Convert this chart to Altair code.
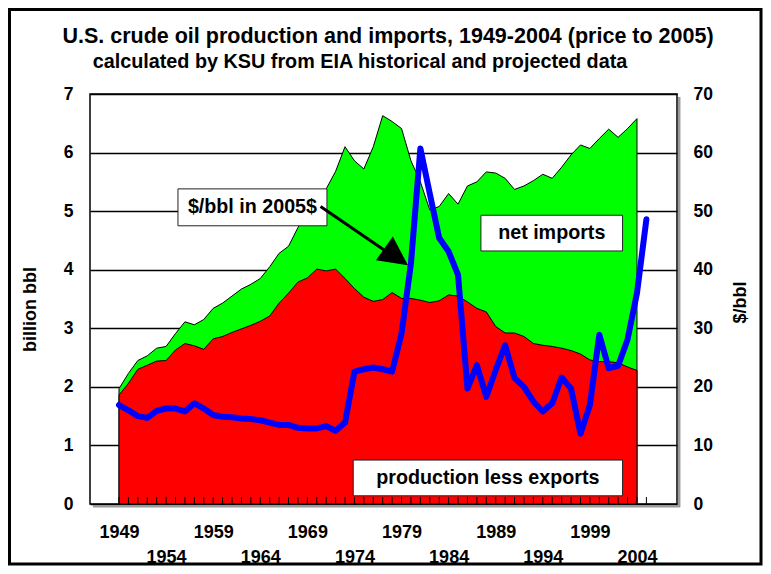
import altair as alt
import pandas as pd

FONT = "Liberation Sans"

# ---------------- data ----------------
years = list(range(1949, 2005))
production_less_exports = [
    1.86, 2.06, 2.30, 2.37, 2.44, 2.45, 2.63, 2.74, 2.70, 2.64,
    2.82, 2.86, 2.93, 2.99, 3.05, 3.12, 3.21, 3.43, 3.60, 3.79,
    3.86, 4.01, 3.98, 4.01, 3.85, 3.68, 3.53, 3.46, 3.49, 3.61,
    3.51, 3.51, 3.48, 3.44, 3.47, 3.57, 3.55, 3.45, 3.34, 3.28,
    3.03, 2.92, 2.92, 2.86, 2.74, 2.71, 2.69, 2.66, 2.62, 2.56,
    2.46, 2.43, 2.43, 2.41, 2.34, 2.28,
]
total_supply = [
    1.97, 2.23, 2.45, 2.53, 2.66, 2.69, 2.91, 3.11, 3.06, 3.15,
    3.34, 3.43, 3.55, 3.67, 3.75, 3.85, 4.05, 4.28, 4.40, 4.72,
    5.00, 5.20, 5.38, 5.68, 6.10, 5.86, 5.72, 6.10, 6.63, 6.53,
    6.41, 5.86, 5.50, 5.02, 5.08, 5.30, 5.12, 5.43, 5.50, 5.67,
    5.65, 5.56, 5.37, 5.43, 5.52, 5.63, 5.56, 5.75, 5.96, 6.13,
    6.07, 6.24, 6.40, 6.26, 6.41, 6.58,
]
price_years = list(range(1949, 2006))
price_2005 = [
    16.9, 16.0, 15.0, 14.7, 15.9, 16.3, 16.3, 15.8, 17.2, 16.3,
    15.2, 14.9, 14.8, 14.6, 14.5, 14.3, 13.9, 13.5, 13.5, 13.0,
    12.9, 12.9, 13.3, 12.5, 13.9, 22.6, 23.0, 23.3, 23.0, 22.6,
    29.1, 41.1, 60.7, 53.0, 45.4, 43.1, 39.1, 19.7, 23.7, 18.3,
    22.9, 27.1, 21.5, 20.0, 17.5, 15.8, 17.2, 21.6, 19.7, 12.0,
    16.9, 28.9, 23.2, 23.6, 28.1, 36.0, 48.6,
]
tick_years = list(range(1949, 2006))
label_years = list(range(1949, 2005, 5))
left_ticks = list(range(0, 8))
right_ticks = list(range(0, 80, 10))

box_labels = ["$/bbl in 2005$", "net imports", "production less exports"]
box_x1 = [1955.26, 1987.43, 1973.87]
box_x2 = [1971.08, 2002.47, 2002.47]
box_y1 = [4.75, 4.32, 0.14]
box_y2 = [5.38, 4.93, 0.75]
box_tx = [1963.17, 1994.95, 1988.17]
box_ty = [5.065, 4.625, 0.445]

arrow_from = (1970.4, 5.08)
arrow_to = (1977.5, 4.30)
arrow_head = (1978.43, 4.22)
arrow_angle = 35.6

title_text = "U.S. crude oil production and imports, 1949-2004 (price to 2005)"
subtitle_text = "calculated by KSU from EIA historical and projected data"

# ---------------- tables ----------------
area_df = pd.DataFrame({"year": years, "red": production_less_exports, "total": total_supply})
price_df = pd.DataFrame({"year": price_years, "price": price_2005})
tick_df = pd.DataFrame({"year": tick_years})
box_df = pd.DataFrame({"label": box_labels, "x1": box_x1, "x2": box_x2,
                       "y1": box_y1, "y2": box_y2, "tx": box_tx, "ty": box_ty})
arrow_df = pd.DataFrame({"x": [arrow_from[0]], "y": [arrow_from[1]],
                         "x2": [arrow_to[0]], "y2": [arrow_to[1]],
                         "hx": [arrow_head[0]], "hy": [arrow_head[1]]})
title_df = pd.DataFrame({"t": [title_text], "s": [subtitle_text]})

W, H = 587, 410
xs = alt.Scale(domain=[1945.92, 2008.25], nice=False, zero=False)
ys = alt.Scale(domain=[0, 7], nice=False, zero=True)
ys2 = alt.Scale(domain=[0, 70], nice=False, zero=True)

x_axis = alt.Axis(
    values=label_years, format="d",
    labelExpr="(datum.value - 1949) % 10 == 0 ? datum.label : ['', datum.label]",
    ticks=False, domain=False, grid=False, labelPadding=19,
    labelFontSize=18, labelLineHeight=25, labelBaseline="top",
    labelOverlap=False, labelFlush=False, labelBound=False, title=None,
)
y_axis = alt.Axis(
    values=left_ticks, grid=True, gridColor="black", gridWidth=1.5,
    ticks=False, domain=False, labelPadding=17, labelFontSize=17.5,
    labelFlush=False, title="billion bbl", titleFontSize=18,
    titleAngle=-90, titleX=-60, titleY=215, titleBaseline="middle", titleAlign="center",
)
y2_axis = alt.Axis(
    orient="right", values=right_ticks, grid=False, ticks=False, domain=False,
    labelPadding=16, labelFontSize=17.5, labelFlush=False,
    title="$/bbl", titleFontSize=18, titleAngle=-90, titleX=63, titleY=208,
    titleBaseline="middle", titleAlign="center",
)


def X(field):
    return alt.X(field, scale=xs, axis=x_axis)


def Y(field):
    return alt.Y(field, scale=ys, axis=y_axis)


green = alt.Chart(area_df).mark_area(fill="#00FF00", stroke="black", strokeWidth=1).encode(
    x=X("year:Q"), y=Y("total:Q"),
)
red = alt.Chart(area_df).mark_area(fill="#FF0000", stroke="black", strokeWidth=1).encode(
    x=X("year:Q"), y=Y("red:Q"),
)
ticks = alt.Chart(tick_df).mark_rule(color="black", strokeWidth=1).encode(
    x=X("year:Q"), y=alt.value(H - 7), y2=alt.value(H),
)
boxes = alt.Chart(box_df).mark_rect(fill="white", stroke="#222222", strokeWidth=1).encode(
    x=X("x1:Q"), x2="x2:Q", y=Y("y1:Q"), y2="y2:Q",
)
box_text = alt.Chart(box_df).mark_text(
    font=FONT, fontSize=19.7, fontWeight="bold", color="black", align="center", baseline="middle"
).encode(x=X("tx:Q"), y=Y("ty:Q"), text="label:N")
arrow_line = alt.Chart(arrow_df).mark_rule(color="black", strokeWidth=3).encode(
    x=X("x:Q"), x2="x2:Q", y=Y("y:Q"), y2="y2:Q",
)
arrow_tip = alt.Chart(arrow_df).mark_point(
    shape="M 1 0 L -1 -1 L -1 1 Z", filled=True, color="black", opacity=1,
    size=841, angle=arrow_angle,
).encode(x=X("hx:Q"), y=Y("hy:Q"))

# plot-area shadow (bottom and right), as in the spreadsheet original
shadow_b = alt.Chart(title_df).mark_rule(color="#9a9a9a", strokeWidth=2.5).encode(
    x=alt.value(3), x2=alt.value(W + 3), y=alt.value(H + 2.2))
shadow_r = alt.Chart(title_df).mark_rule(color="#9a9a9a", strokeWidth=2.5).encode(
    x=alt.value(W + 2.2), y=alt.value(3), y2=alt.value(H + 3))

title_mark = alt.Chart(title_df).mark_text(
    font=FONT, fontSize=21.5, fontWeight="bold", color="black", align="center", baseline="middle"
).encode(x=alt.value(298), y=alt.value(-57), text="t:N")
subtitle_mark = alt.Chart(title_df).mark_text(
    font=FONT, fontSize=19.8, fontWeight="bold", color="black", align="center", baseline="middle"
).encode(x=alt.value(270), y=alt.value(-32), text="s:N")
frame = alt.Chart(title_df).mark_rect(
    fill="transparent", stroke="black", strokeWidth=3
).encode(x=alt.value(-80.5), x2=alt.value(671), y=alt.value(-84.5), y2=alt.value(470))

price_line = alt.Chart(price_df).mark_line(
    color="#0000FF", strokeWidth=6, strokeJoin="round", strokeCap="round"
).encode(
    x=X("year:Q"),
    y=alt.Y("price:Q", scale=ys2, axis=y2_axis),
)

left = alt.layer(shadow_b, shadow_r, green, red, ticks, boxes, box_text, arrow_line, arrow_tip,
                 title_mark, subtitle_mark, frame)

chart = alt.layer(left, price_line).resolve_scale(y="independent").properties(
    width=W, height=H,
    padding={"left": 82, "top": 86, "right": 86, "bottom": 62},
    autosize=alt.AutoSizeParams(type="none"),
).configure_view(
    stroke="black", strokeWidth=1.5
).configure_axis(
    labelFont=FONT, titleFont=FONT, labelFontWeight="bold", titleFontWeight="bold",
    labelColor="black", titleColor="black",
)

chart.save("out.html", embed_options={"renderer": "svg", "actions": False})
